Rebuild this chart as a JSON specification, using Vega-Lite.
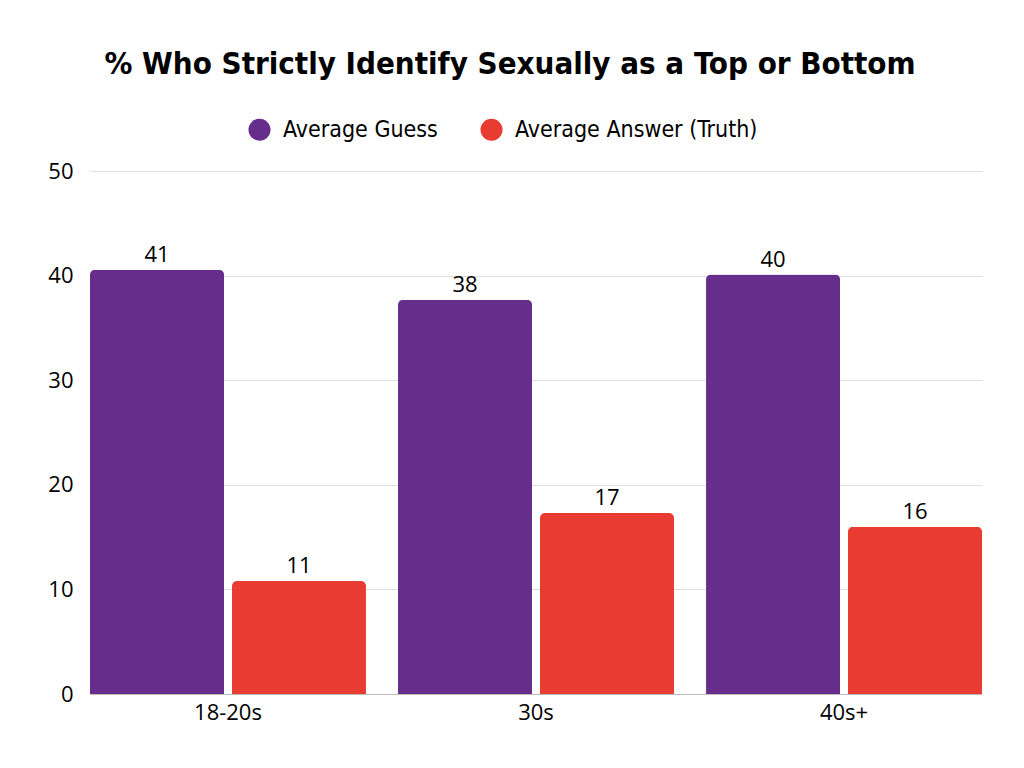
{
  "$schema": "https://vega.github.io/schema/vega-lite/v6.json",
  "autosize": {"type": "none"},
  "width": 892,
  "height": 523,
  "padding": {"left": 90, "top": 171, "right": 42, "bottom": 74},
  "background": "white",
  "view": {"stroke": null},
  "title": {
    "text": "% Who Strictly Identify Sexually as a Top or Bottom",
    "font": "DejaVu Sans Condensed",
    "fontSize": 31,
    "fontWeight": "bold",
    "color": "black",
    "anchor": "middle",
    "dx": -26,
    "offset": 37
  },
  "data": {
    "values": [
      {"age": "18-20s", "series": "Average Guess", "value": 40.55},
      {"age": "18-20s", "series": "Average Answer (Truth)", "value": 10.8},
      {"age": "30s", "series": "Average Guess", "value": 37.7},
      {"age": "30s", "series": "Average Answer (Truth)", "value": 17.3},
      {"age": "40s+", "series": "Average Guess", "value": 40.1},
      {"age": "40s+", "series": "Average Answer (Truth)", "value": 16.0}
    ]
  },
  "encoding": {
    "x": {
      "field": "age",
      "type": "nominal",
      "sort": null,
      "title": null,
      "scale": {"paddingInner": 0.104, "paddingOuter": 0},
      "axis": {
        "labelAngle": 0,
        "labelFont": "Open Sans",
        "labelFontSize": 22,
        "labelColor": "black",
        "labelPadding": 8,
        "ticks": false,
        "domainColor": "#bbbbbb"
      }
    },
    "xOffset": {
      "field": "series",
      "type": "nominal",
      "sort": ["Average Guess", "Average Answer (Truth)"],
      "scale": {"paddingInner": 0.056, "paddingOuter": 0}
    },
    "y": {
      "field": "value",
      "type": "quantitative",
      "title": null,
      "scale": {"domain": [0, 50]},
      "axis": {
        "values": [0, 10, 20, 30, 40, 50],
        "domain": false,
        "ticks": false,
        "labelFont": "Open Sans",
        "labelFontSize": 22,
        "labelColor": "black",
        "labelPadding": 17,
        "gridColor": "#dddddd"
      }
    }
  },
  "layer": [
    {
      "mark": {"type": "bar", "cornerRadiusTopLeft": 5, "cornerRadiusTopRight": 5},
      "encoding": {
        "color": {
          "field": "series",
          "type": "nominal",
          "sort": ["Average Guess", "Average Answer (Truth)"],
          "scale": {"domain": ["Average Guess", "Average Answer (Truth)"], "range": ["#662E8A", "#E83C32"]},
          "legend": {
            "title": null,
            "orient": "none",
            "direction": "horizontal",
            "legendX": 158,
            "legendY": -53,
            "symbolType": "circle",
            "symbolSize": 484,
            "symbolStrokeWidth": 0,
            "symbolOpacity": 1,
            "labelFont": "DejaVu Sans Condensed",
            "labelFontSize": 23,
            "labelColor": "black",
            "labelOffset": 12,
            "labelLimit": 400,
            "columnPadding": 42
          }
        }
      }
    },
    {
      "mark": {"type": "text", "baseline": "bottom", "dy": -3, "font": "Open Sans", "fontSize": 22, "color": "black"},
      "encoding": {
        "text": {"field": "value", "type": "quantitative", "format": ".0f"}
      }
    }
  ]
}
